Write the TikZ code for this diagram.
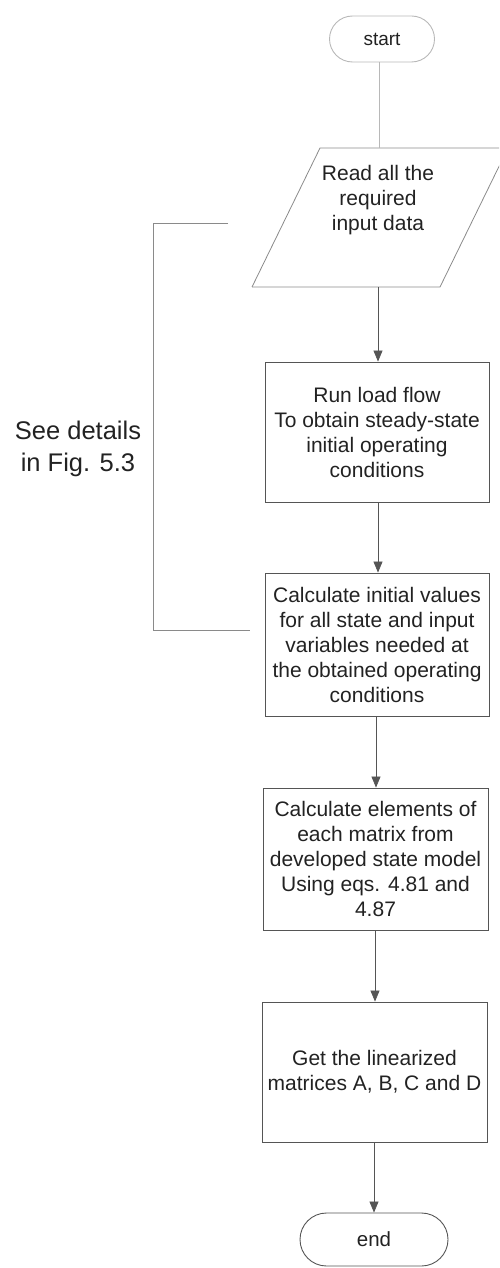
\documentclass[tikz,border=0pt]{standalone}
\usepackage{fontspec}
\setmainfont{Liberation Sans}
\usetikzlibrary{arrows.meta,shapes.misc}
\definecolor{boxline}{HTML}{555555}
\definecolor{softline}{HTML}{8A8A8A}
\definecolor{faintline}{HTML}{B8B8B8}
\definecolor{txt}{HTML}{222222}
\tikzset{
  stepbox/.style={draw=boxline, line width=0.9pt, rectangle, align=center, text=txt,
    minimum width=224pt, inner sep=0pt, font=\fontsize{21}{25}\selectfont},
  term/.style={draw=#1, line width=0.9pt, rounded rectangle, text=txt, inner sep=0pt},
  flow/.style={draw=boxline, line width=0.7pt, -{Triangle[width=9pt,length=11pt]}},
}
\begin{document}
\begin{tikzpicture}[x=1pt,y=-1pt]
\useasboundingbox (0,0) rectangle (499,1268);
% start
\node[term=faintline, minimum width=105pt, minimum height=46pt, font=\fontsize{19}{22}\selectfont] (start) at (382,39) {start};
% parallelogram (input)
\begin{scope}
\clip (0,0) rectangle (499,1268);
\draw[softline, line width=0.8pt] (252,287) -- (320,148) -- (520,148);
\draw[softline, line width=0.8pt] (252,287) -- (440,287) -- (508,148);
\end{scope}
\node[align=center, text=txt, font=\fontsize{21}{25}\selectfont] (read) at (378,200) {Read all the\\required\\input data};
\coordinate (readtop) at (379,148);
\coordinate (readbot) at (378,287);
% process boxes
\node[stepbox, minimum height=140pt] (run) at (377,432) {Run load flow\\To obtain steady-state\\initial operating\\conditions};
\node[stepbox, minimum height=143pt] (init) at (377,644.5) {Calculate initial values\\for all state and input\\variables needed at\\the obtained operating\\conditions};
\node[stepbox, minimum width=225pt, minimum height=142pt] (elem) at (375.5,859) {Calculate elements of\\each matrix from\\developed state model\\Using eqs. 4.81 and\\4.87};
\node[stepbox, minimum width=225pt, minimum height=140pt] (lin) at (374.5,1072) {Get the linearized\\matrices A, B, C and D};
% end
\node[term=boxline, minimum width=148pt, minimum height=53pt, font=\fontsize{20.5}{24}\selectfont] (end) at (374,1239.5) {end};
% connectors
\draw[faintline, line width=0.7pt] (start.south -| readtop) -- (readtop);
\draw[flow] (readbot) -- (readbot |- run.north);
\draw[flow] (run.south -| 378,0) -- (378,0 |- init.north);
\draw[flow] (init.south -| 376,0) -- (376,0 |- elem.north);
\draw[flow] (elem.south -| 375,0) -- (375,0 |- lin.north);
\draw[flow] (lin.south -| 374,0) -- (374,0 |- end.north);
% bracket and note
\coordinate (brtop) at (228,223);
\coordinate (brbot) at (250,630);
\draw[softline, line width=0.8pt] (brtop) -- (153,223) -- (153,630) -- (brbot);
\node[align=center, text=txt, font=\fontsize{25.5}{32}\selectfont] (note) at (78,449) {See details\\in Fig. 5.3};
\end{tikzpicture}
\end{document}
